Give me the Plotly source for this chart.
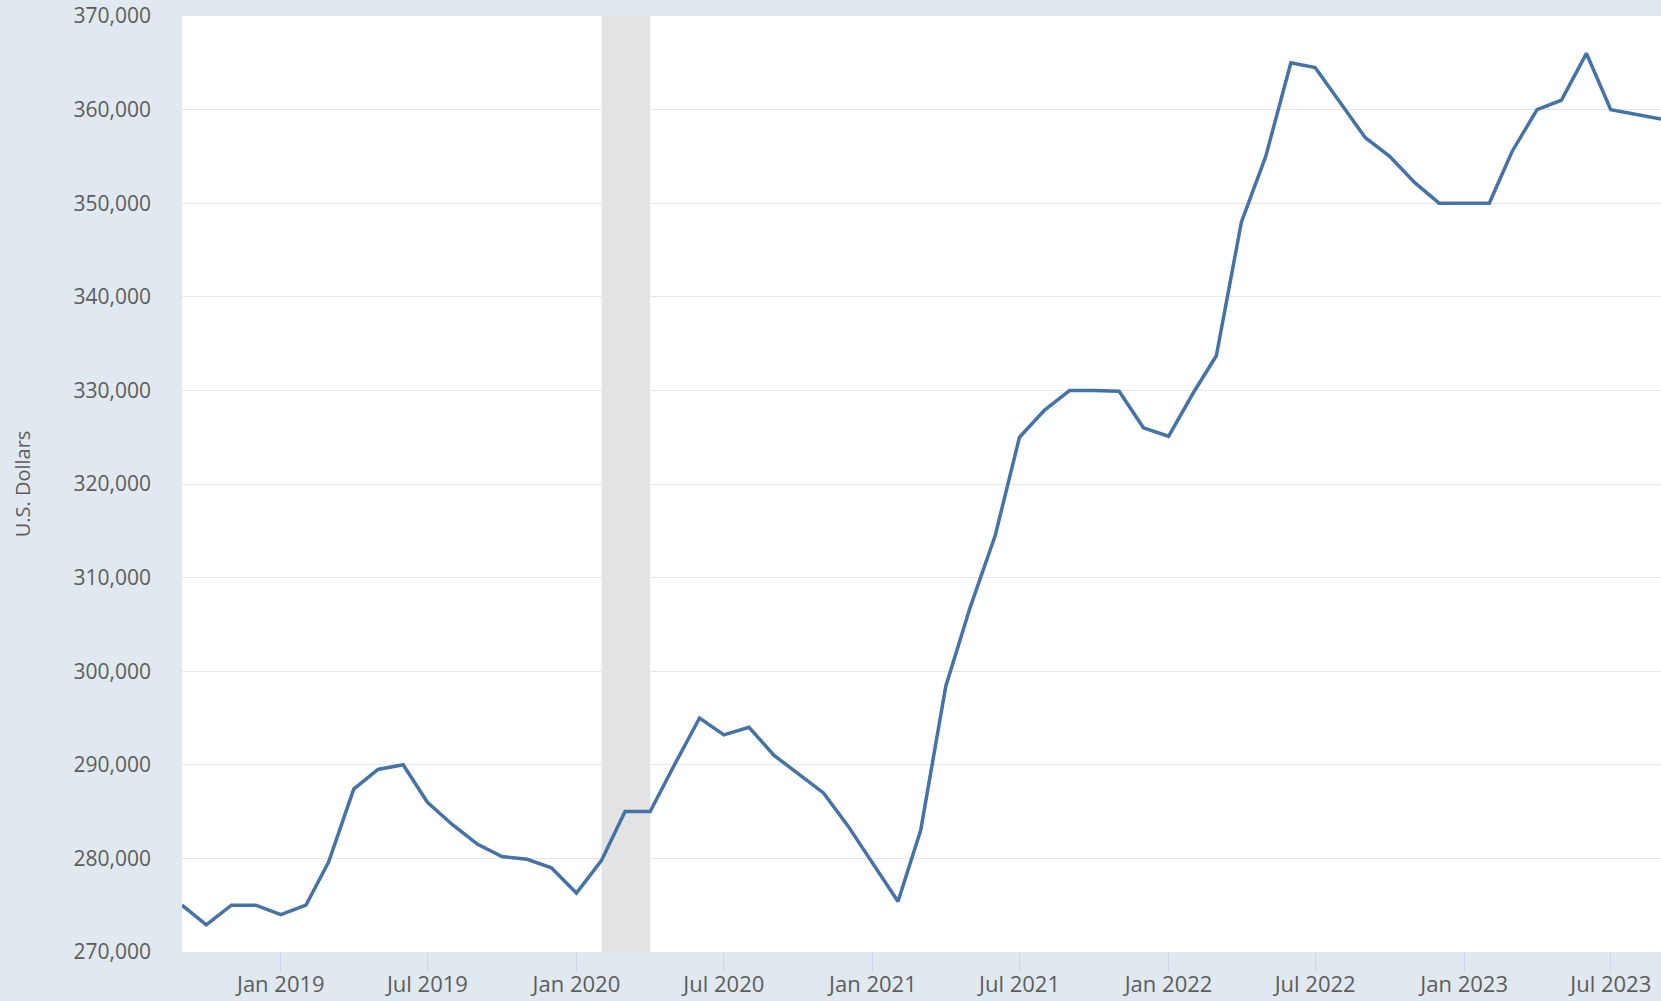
import plotly.graph_objects as go
import pandas as pd

# Monthly observations, Sep 2018 - Sep 2023
dates = pd.date_range("2018-09-01", "2023-09-01", freq="MS").strftime("%Y-%m-%d").tolist()
values = [
    275000, 272900, 275000, 275000, 274000, 275000, 279600, 287400, 289500, 290000,  # Sep18-Jun19
    286000, 283600, 281500, 280200, 279900, 279000, 276300, 279800, 285000, 285000,  # Jul19-Apr20
    290000, 295000, 293200, 294000, 291000, 289000, 287000, 283500, 279500, 275400,  # May20-Feb21
    283000, 298400, 306800, 314500, 325000, 327900, 330000, 330000, 329900, 326000,  # Mar21-Dec21
    325100, 329800, 333700, 348000, 355000, 365000, 364500, 360800, 357000, 355000,  # Jan22-Oct22
    352200, 350000, 350000, 350000, 355500, 360000, 361000, 366000, 360000, 359500,  # Nov22-Aug23
    359000,                                                                            # Sep23
]

recession_start = ["2020-02-01"]
recession_end = ["2020-04-01"]

tick_dates = ["2019-01-01", "2019-07-01", "2020-01-01", "2020-07-01", "2021-01-01",
              "2021-07-01", "2022-01-01", "2022-07-01", "2023-01-01", "2023-07-01"]
tick_labels = ["Jan 2019", "Jul 2019", "Jan 2020", "Jul 2020", "Jan 2021",
               "Jul 2021", "Jan 2022", "Jul 2022", "Jan 2023", "Jul 2023"]

y_ticks = [270000, 280000, 290000, 300000, 310000, 320000, 330000, 340000, 350000, 360000, 370000]

FONT = "Open Sans"
TXT = "#5c5c5c"
BG = "#e1e9f0"

fig = go.Figure()
fig.add_trace(go.Scatter(
    x=dates, y=values, mode="lines",
    line=dict(color="#4572a7", width=3.5),
    showlegend=False,
))

for s, e in zip(recession_start, recession_end):
    fig.add_shape(type="rect", xref="x", yref="paper", x0=s, x1=e, y0=0, y1=1,
                  fillcolor="#e3e3e3", line=dict(width=0), layer="below")

fig.update_layout(
    width=1661, height=1001,
    margin=dict(l=182, r=0, t=16, b=49),
    paper_bgcolor=BG,
    plot_bgcolor="#ffffff",
    font=dict(family=FONT, size=20, color=TXT),
    showlegend=False,
)
fig.update_xaxes(
    type="date",
    range=[dates[0], dates[-1]],
    tickvals=tick_dates, ticktext=tick_labels,
    showgrid=False, zeroline=False, showline=False,
    ticks="outside", ticklen=19, tickcolor="#ccd6eb", tickwidth=1,
    tickfont=dict(family=FONT, size=22, color=TXT),
    ticklabelstandoff=-6,
)
fig.update_yaxes(
    range=[270000, 370000],
    tickvals=y_ticks,
    tickformat=",d",
    showgrid=True, gridcolor="#e6e6e6", gridwidth=1,
    zeroline=False, showline=False,
    ticks="",
    ticklabelstandoff=30,
    tickfont=dict(family=FONT, size=21, color=TXT),
    title=dict(text="U.S. Dollars", font=dict(family=FONT, size=20, color=TXT), standoff=37),
)

post = ("document.body.style.margin='0';document.body.style.overflow='hidden';"
        "document.body.style.background='%s';" % BG)
fig.write_html("out.html", post_script=post, config={"displayModeBar": False})
